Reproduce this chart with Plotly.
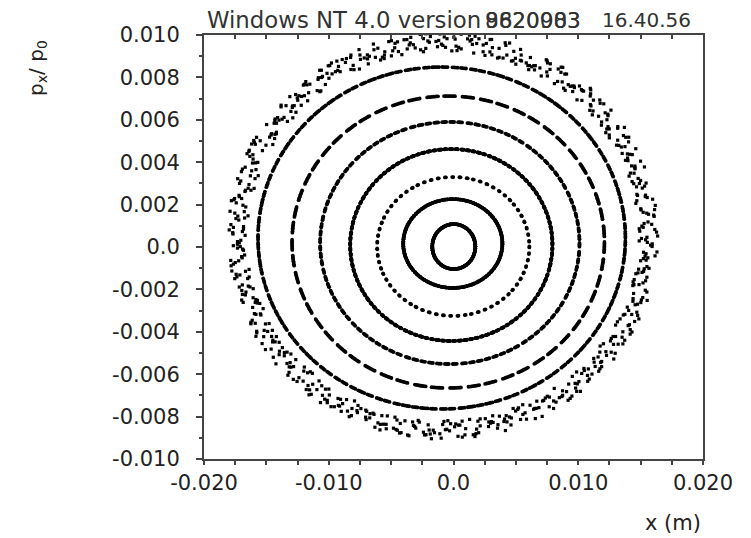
import numpy as np
import plotly.graph_objects as go

# Poincaré section of tracked particles in the horizontal plane.
# All coordinates below are given in units of 1e-3 (x in m, px/p0 dimensionless).
SCALE = 1e-3

# Regular orbits, innermost first: extents of each closed curve
orbit_x_left = [-1.70, -4.03, -6.12, -8.28, -10.69, -12.94, -15.67]
orbit_x_right = [1.75, 3.92, 6.08, 7.93, 10.10, 12.10, 13.78]
orbit_p_top = [1.08, 2.26, 3.30, 4.62, 5.90, 7.12, 8.49]
orbit_p_bottom = [-1.04, -1.93, -3.25, -4.43, -5.52, -6.65, -7.64]
orbit_turns = [220, 360, 134, 620, 400, 440, 520]
orbit_tunes = [0.24613, 0.24371, 0.2239126, 0.23893, 0.2300163, 0.2182107, 0.21137]

# Outermost particle, close to the dynamic aperture: its vertical motion is
# chaotic (kicked-rotor model) and modulates the horizontal amplitude
band_x_left = -17.30
band_x_right = 15.63
band_p_top = 9.67
band_p_bottom = -8.63
band_turns = 720
band_tune = 0.20733
band_width = 0.048
band_kick = 6.3
band_start = (0.7, 1.3)

# Axis ticks
x_tick_vals = [-0.020, -0.010, 0.0, 0.010, 0.020]
x_tick_text = ["-0.020", "-0.010", "0.0", "0.010", "0.020"]
y_tick_vals = [0.010, 0.008, 0.006, 0.004, 0.002, 0.0,
               -0.002, -0.004, -0.006, -0.008, -0.010]
y_tick_text = ["0.010", "0.008", "0.006", "0.004", "0.002", "0.0",
               "-0.002", "-0.004", "-0.006", "-0.008", "-0.010"]

fig = go.Figure()

for xl, xr, pt, pb, turns, tune in zip(orbit_x_left, orbit_x_right, orbit_p_top,
                                       orbit_p_bottom, orbit_turns, orbit_tunes):
    xc, ax = 0.5 * (xl + xr), 0.5 * (xr - xl)
    pc, ap = 0.5 * (pt + pb), 0.5 * (pt - pb)
    n = np.arange(turns)
    phase = 2 * np.pi * tune * n
    fig.add_trace(go.Scatter(
        x=(xc + ax * np.cos(phase)) * SCALE,
        y=(pc - ap * np.sin(phase)) * SCALE,
        mode="markers",
        marker=dict(size=3.8, color="black", line=dict(width=0)),
        hoverinfo="skip", showlegend=False,
    ))

# outer orbit: track the vertical phase with the standard map
theta, action = band_start
vphase = np.empty(band_turns)
for i in range(band_turns):
    action = (action + band_kick * np.sin(theta)) % (2 * np.pi)
    theta = (theta + action) % (2 * np.pi)
    vphase[i] = theta
amp = 1.0 + band_width * (vphase / np.pi - 1.0)
n = np.arange(band_turns)
phase = 2 * np.pi * band_tune * n
bxc, bax = 0.5 * (band_x_left + band_x_right), 0.5 * (band_x_right - band_x_left)
bpc, bap = 0.5 * (band_p_top + band_p_bottom), 0.5 * (band_p_top - band_p_bottom)
fig.add_trace(go.Scatter(
    x=(bxc + bax * amp * np.cos(phase)) * SCALE,
    y=(bpc - bap * amp * np.sin(phase)) * SCALE,
    mode="markers",
    marker=dict(size=3.2, color="black", symbol="square", line=dict(width=0)),
    hoverinfo="skip", showlegend=False,
))

# carrier for the top tick axis
fig.add_trace(go.Scatter(x=[None], y=[None], xaxis="x2", yaxis="y",
                         showlegend=False, hoverinfo="skip"))

axis_color = "#444"
fig.update_layout(
    width=751, height=538,
    margin=dict(l=204, r=48, t=35, b=79),
    paper_bgcolor="white", plot_bgcolor="white",
    font=dict(family="DejaVu Sans", size=21, color="#222"),
    showlegend=False,
    xaxis=dict(
        range=[-0.020, 0.020], tickmode="array", tickvals=x_tick_vals, ticktext=x_tick_text,
        ticks="outside", ticklen=4, tickwidth=1.5, tickcolor=axis_color,
        minor=dict(tickmode="linear", tick0=-0.020, dtick=0.0025, ticks="outside",
                   ticklen=4, tickwidth=1.5, tickcolor=axis_color),
        showline=True, linecolor=axis_color, linewidth=2, mirror=True,
        showgrid=False, zeroline=False, ticklabelstandoff=0,
    ),
    xaxis2=dict(
        overlaying="x", side="top", matches="x", range=[-0.020, 0.020],
        tickmode="linear", tick0=-0.020, dtick=0.0025,
        ticks="inside", ticklen=4, tickwidth=1.5, tickcolor=axis_color,
        showticklabels=False, showline=False, showgrid=False, zeroline=False,
    ),
    yaxis=dict(
        range=[-0.010, 0.010], tickmode="array", tickvals=y_tick_vals, ticktext=y_tick_text,
        ticks="outside", ticklen=6, tickwidth=1.5, tickcolor=axis_color,
        minor=dict(tickmode="linear", tick0=-0.010, dtick=0.001, ticks="outside",
                   ticklen=3, tickwidth=1.5, tickcolor=axis_color),
        showline=True, linecolor=axis_color, linewidth=2, mirror=True,
        showgrid=False, zeroline=False, ticklabelstandoff=12,
    ),
)

annotations = [
    dict(text="Windows NT 4.0 version", x=0.002, y=1.035, xanchor="left", yanchor="middle",
         font=dict(family="DejaVu Sans", size=22.8, color="#333")),
    dict(text="9820903", x=0.66, y=1.035, xanchor="center", yanchor="middle",
         font=dict(family="DejaVu Sans", size=21.5, color="#333")),
    dict(text="8620083", x=0.66, y=1.035, xanchor="center", yanchor="middle",
         font=dict(family="DejaVu Sans", size=21.5, color="#333")),
    dict(text="16.40.56", x=0.979, y=1.035, xanchor="right", yanchor="middle",
         font=dict(family="DejaVu Sans", size=20, color="#333")),
    dict(text="x (m)", x=0.939, y=-0.151, xanchor="center", yanchor="middle",
         font=dict(family="DejaVu Sans", size=21, color="#222")),
    dict(text="p<sub>x</sub>/ p<sub>0</sub>", x=-0.335, y=0.922, xanchor="center",
         yanchor="middle", textangle=-90,
         font=dict(family="DejaVu Sans", size=20, color="#222")),
]
for a in annotations:
    a.update(xref="paper", yref="paper", showarrow=False)
fig.update_layout(annotations=annotations)

fig.write_html("out.html")
